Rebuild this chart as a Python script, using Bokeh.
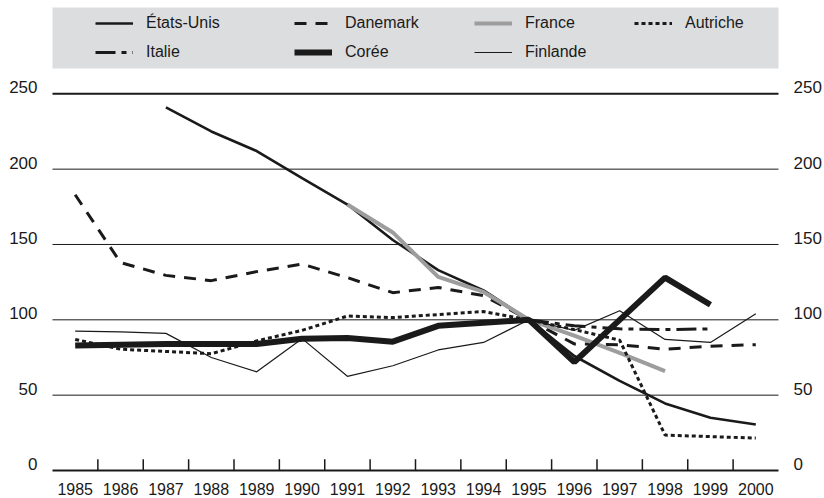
from bokeh.plotting import figure
from bokeh.models import Range1d, Legend, LegendItem, ColumnDataSource
from bokeh.embed import file_html
from bokeh.resources import INLINE
from bokeh.core.properties import value

nan = float("nan")

# ---------------- data ----------------
years = list(range(1985, 2001))
etats_unis = [nan, nan, 241, 225, 212, 194, 176.5, 153, 133, 119.5, 100, 76, 59.5, 44.5, 35, 30.5]
danemark = [183, 138, 129.5, 126, 132, 137, 128, 118, 121.5, 116, 100, 84, 83.5, 80.5, 82.5, 83.5]
france = [nan, nan, nan, nan, nan, nan, 176.5, 158, 128.5, 118.5, 100, 89.5, 78, 66, nan, nan]
autriche = [87, 80.5, 79, 77.5, 86, 93, 102.5, 101.5, 103.5, 105.5, 100, 93.5, 86.5, 23.5, 22.5, 21.5]
italie = [nan, nan, nan, nan, nan, nan, nan, nan, nan, nan, 100, 96, 94, 93.5, 94, nan]
coree = [83, 83.5, 84, 84, 84, 87.5, 88, 85.5, 96, 98, 100, 72, 100, 128, 110, nan]
finlande = [92.5, 92, 91, 75, 65.5, 87.5, 62.5, 69.5, 80, 85, 100, 93, 106, 87, 85, 104]

y_ticks = [0, 50, 100, 150, 200, 250]
y_tick_labels = [str(v) for v in y_ticks]
x_tick_labels = [str(y) for y in years]

# ---------------- styling / geometry ----------------
INK = "#1a1a1a"
GRAY = "#9d9d9d"
LEGEND_BG = "#dcdddf"
TICK_FONT = "Liberation Sans"
LEGEND_FONT = "Liberation Sans"

W, H = 824, 498
x_lo, x_hi = years[0] - 0.5, years[-1] + 0.5

p = figure(width=W, height=H,
           x_range=Range1d(1983.354, 2001.514), y_range=Range1d(-18.58, 311.92),
           x_axis_type=None, y_axis_type=None,
           output_backend="svg", toolbar_location=None,
           min_border=0, outline_line_color=None)
p.grid.visible = False

# legend background band
p.quad(left=[x_lo], right=[x_hi], bottom=[266.8], top=[307.3], fill_color=LEGEND_BG, line_color=None)

# horizontal grid lines
grid_src = ColumnDataSource(dict(
    x0=[x_lo] * (len(y_ticks) - 1), x1=[x_hi] * (len(y_ticks) - 1),
    y=y_ticks[1:], w=[1] * (len(y_ticks) - 2) + [2]))
p.segment(x0="x0", x1="x1", y0="y", y1="y", line_width="w", line_color=INK, source=grid_src)

# x axis line and tick marks between years
p.segment(x0=[x_lo], x1=[x_hi], y0=[0], y1=[0], line_width=2, line_color=INK)
half = [y + 0.5 for y in years[:-1]]
p.segment(x0=half, x1=half, y0=[0] * len(half), y1=[7.5] * len(half), line_width=1.5, line_color=INK)

# tick labels
lab_src = ColumnDataSource(dict(y=y_ticks, t=y_tick_labels,
                                xl=[x_lo] * len(y_ticks), xr=[x_hi] * len(y_ticks)))
p.text(x="xl", y="y", text="t", source=lab_src, x_offset=-15, y_offset=-6.5, text_align="right",
       text_baseline="middle", text_font=value(TICK_FONT), text_font_size="17px", text_color=INK)
p.text(x="xr", y="y", text="t", source=lab_src, x_offset=15, y_offset=-6.5, text_align="left",
       text_baseline="middle", text_font=value(TICK_FONT), text_font_size="17px", text_color=INK)
xl_src = ColumnDataSource(dict(x=years, y=[0] * len(years), t=x_tick_labels))
p.text(x="x", y="y", text="t", source=xl_src, y_offset=18.5, text_align="center",
       text_baseline="middle", text_font=value(TICK_FONT), text_font_size="16px", text_color=INK)

# series
r_us = p.line(years, etats_unis, line_color=INK, line_width=2.6)
r_dk = p.line(years, danemark, line_color=INK, line_width=3, line_dash="12 9")
r_fr = p.line(years, france, line_color=GRAY, line_width=4)
r_at = p.line(years, autriche, line_color=INK, line_width=3, line_dash="4 3")
r_it = p.line(years, italie, line_color=INK, line_width=3, line_dash="20 6 5 6")
r_kr = p.line(years, coree, line_color=INK, line_width=6)
r_fi = p.line(years, finlande, line_color=INK, line_width=1.2)


def add_legend(items, x_px):
    n = len(items)
    height = n * 20 + (n - 1) * 9
    top = 12.7
    leg = Legend(items=items, location=(x_px, H - top - height),
                 orientation="vertical", padding=0, margin=0, spacing=9,
                 glyph_width=38, glyph_height=20, label_height=20, label_standoff=13,
                 label_text_font=LEGEND_FONT, label_text_font_size="16px",
                 label_text_color=INK, background_fill_alpha=0, border_line_alpha=0)
    p.add_layout(leg)


add_legend([LegendItem(label="États-Unis", renderers=[r_us]),
            LegendItem(label="Italie", renderers=[r_it])], 95)
add_legend([LegendItem(label="Danemark", renderers=[r_dk]),
            LegendItem(label="Corée", renderers=[r_kr])], 294)
add_legend([LegendItem(label="France", renderers=[r_fr]),
            LegendItem(label="Finlande", renderers=[r_fi])], 474)
add_legend([LegendItem(label="Autriche", renderers=[r_at])], 634)

open("out.html", "w").write(file_html(p, INLINE))
